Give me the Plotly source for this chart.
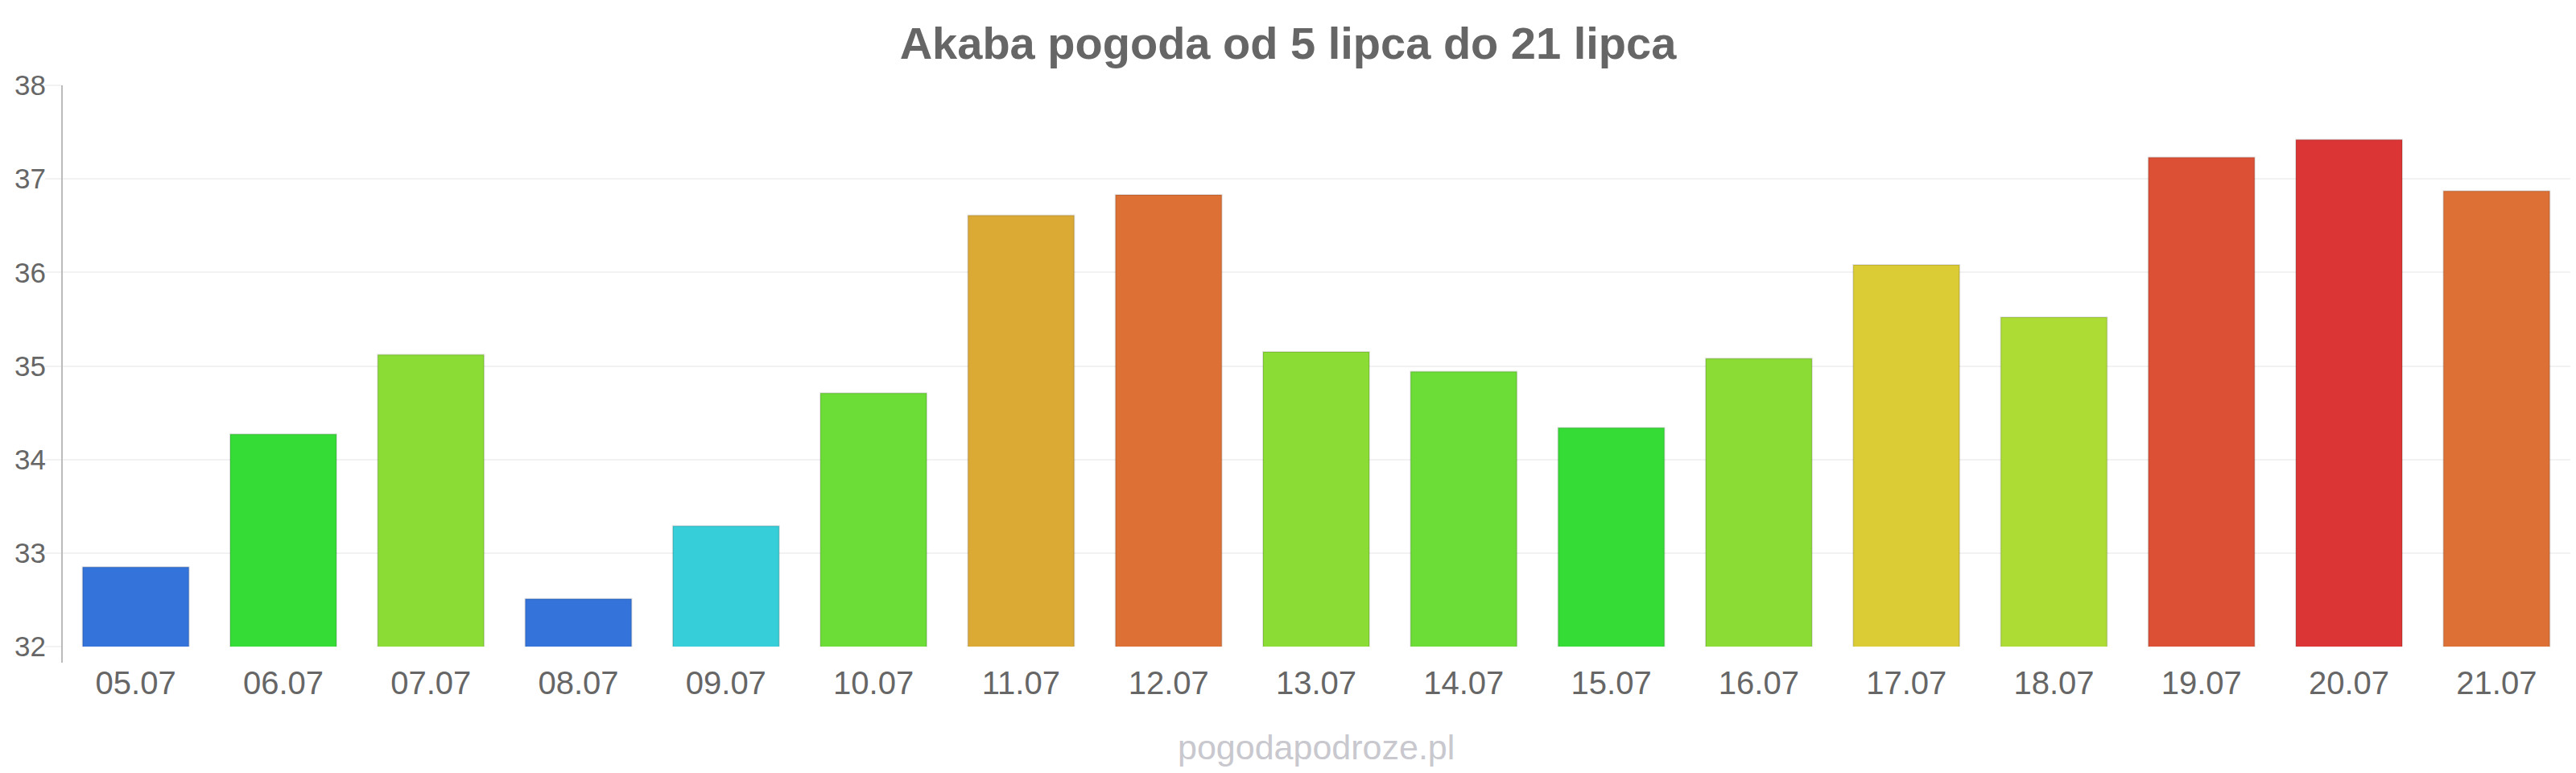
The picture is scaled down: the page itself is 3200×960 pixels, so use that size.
import plotly.graph_objects as go

dates = ["05.07", "06.07", "07.07", "08.07", "09.07", "10.07", "11.07", "12.07", "13.07",
         "14.07", "15.07", "16.07", "17.07", "18.07", "19.07", "20.07", "21.07"]
temps = [32.85, 34.27, 35.12, 32.51, 33.29, 34.71, 36.61, 36.83, 35.15,
         34.94, 34.34, 35.08, 36.08, 35.52, 37.23, 37.42, 36.87]
colors = ["#3474DA", "#36DC36", "#8BDC35", "#3474DA", "#35CED9", "#6CDC36", "#DBAA35", "#DD7035",
          "#8BDC35", "#6CDC36", "#36DC36", "#8BDC35", "#DBCC35", "#ADDC35", "#DC5035", "#DB3535",
          "#DD7035"]
y_ticks = [32, 33, 34, 35, 36, 37, 38]

title_text = "Akaba pogoda od 5 lipca do 21 lipca"
watermark = "pogodapodroze.pl"

FONT = "Liberation Sans, Arial, sans-serif"
W, H = 3200, 960
ML, MR, MT, MB = 77, 7, 106, 157
plot_h = H - MT - MB

fig = go.Figure()
fig.add_trace(go.Bar(
    x=dates, y=temps, base=0,
    marker=dict(color=colors, line=dict(color="rgba(0,0,0,0.12)", width=2)),
    width=0.72,
    hovertemplate="%{x}: %{y}°C<extra></extra>",
))

fig.update_layout(
    width=W, height=H,
    margin=dict(l=ML, r=MR, t=MT, b=MB, pad=0),
    paper_bgcolor="white", plot_bgcolor="white",
    showlegend=False,
    bargap=0.28,
    title=dict(text=f"<b>{title_text}</b>", x=0.5, xanchor="center", y=1 - 53 / H, yanchor="middle",
               font=dict(family=FONT, size=56, color="#666666")),
    font=dict(family=FONT, color="#666666"),
    xaxis=dict(
        type="category", showgrid=False, showline=False, zeroline=False,
        tickfont=dict(size=40, color="#666666"), ticks="", ticklabelstandoff=18,
    ),
    yaxis=dict(
        range=[32, 38], tickvals=y_ticks, showgrid=True, gridcolor="#f2f2f2", gridwidth=2,
        zeroline=False, showline=False, ticks="outside", ticklen=20, tickcolor="#f2f2f2", tickwidth=2,
        tickfont=dict(size=35, color="#666666"), ticklabelstandoff=-8,
    ),
    shapes=[dict(type="line", xref="paper", yref="paper", x0=0, x1=0, y0=-20 / plot_h, y1=1,
                 line=dict(color="#bbbbbb", width=2))],
    annotations=[dict(text=watermark, xref="paper", yref="paper", x=0.5, y=-125 / plot_h,
                      xanchor="center", yanchor="middle", showarrow=False,
                      font=dict(family=FONT, size=43, color="#c8c8ce"))],
)

fig.write_html("out.html")
